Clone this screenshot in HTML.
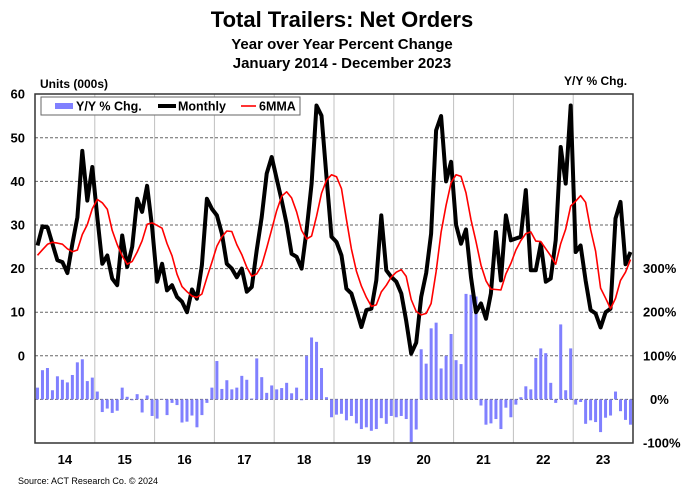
<!DOCTYPE html>
<html><head><meta charset="utf-8"><style>
html,body{margin:0;padding:0;background:#fff;}
svg{display:block;font-family:"Liberation Sans",Arial,sans-serif;font-weight:bold;}
</style></head><body>
<svg id="c" width="684" height="493" viewBox="0 0 684 493" xmlns="http://www.w3.org/2000/svg">
<text x="342" y="27" font-size="22" text-anchor="middle">Total Trailers: Net Orders</text>
<text x="342" y="49" font-size="15" text-anchor="middle">Year over Year Percent Change</text>
<text x="342" y="68" font-size="15" text-anchor="middle">January 2014 - December 2023</text>
<text x="40" y="88" font-size="12">Units (000s)</text>
<text x="564" y="85" font-size="12">Y/Y % Chg.</text>
<text x="18" y="484" font-size="9" font-weight="normal">Source: ACT Research Co. © 2024</text>
<g id="g"></g>
</svg>
<script>
var v=[25.3,29.7,29.5,25.7,21.9,21.5,19,25.7,31.8,47,35.6,43.3,
31.8,21.1,23,17.7,16.2,27.6,20.4,25,36,33,39,29.5,
17,21.1,15,16.2,13.5,12.4,10,15.2,13.1,20.8,36,33.7,
32.2,28,21.1,20,18,20,14.7,15.8,24.2,31.8,41.8,45.6,
40.6,35.6,30.3,23.4,22.7,20,28.8,39.5,57.4,55.1,41,27.3,
26.1,23,15.4,14.3,10.5,6.6,10.5,10.8,17.3,32.2,19.6,18.1,
17,14.3,8,0.5,3,13.5,19,28,51.7,55,40,44.5,
30,25.7,29,18,10,12,8.5,14.3,28.4,17.3,32.2,26.5,
26.9,27.3,38,19.6,19.6,25.7,17,17.7,26.5,47.9,39.5,57.4,
23.8,25.3,17.3,10.5,9.7,6.5,10,10.8,31.5,35.3,21,23.8];
var b=[27,67,72,21,53,45,39,56,85,92,42,50,
18,-29,-21,-31,-26,27,6,-2,12,-30,9,-38,
-44,1,-36,-8,-13,-53,-51,-37,-64,-36,-8,27,
88,24,44,23,27,54,45,2,94,51,15,32,
23,26,38,14,27,-2,100,142,132,72,5,-41,
-35,-33,-48,-38,-55,-68,-64,-72,-68,-43,-56,-38,
-41,-38,-45,-98,-69,115,82,163,176,71,100,150,
90,81,242,240,236,-14,-58,-55,-45,-68,-19,-41,
-12,5,30,23,95,117,106,38,-8,172,21,117,
-12,-6,-56,-48,-52,-75,-42,-37,18,-27,-47,-58];
var pre=[22,22,23,23,23];
function X(k){return 35+(k+0.5)*4.983;}
function YL(x){return 355.8-x*4.36;}
function YR(p){return 399.4-p*0.436;}
var s='';
for(var i=1;i<10;i++){var gx=35+i*59.8;s+='<line x1="'+gx+'" y1="94" x2="'+gx+'" y2="443" stroke="#c0c0c0" stroke-width="1"/>';}
[50,40,30,20,10,0,-10].forEach(function(t){var y=YL(t);s+='<line x1="35" y1="'+y+'" x2="633" y2="'+y+'" stroke="#666" stroke-width="1" stroke-dasharray="3,2"/>';});
for(var k=0;k<120;k++){var y0=YR(0),y1=YR(b[k]);s+='<rect x="'+(X(k)-1.5)+'" y="'+Math.min(y0,y1)+'" width="3" height="'+Math.abs(y1-y0)+'" fill="#8080ff"/>';}
var p='';for(k=0;k<120;k++){p+=(k?'L':'M')+X(k).toFixed(1)+','+YL(v[k]).toFixed(1);}
s+='<path d="'+p+'" fill="none" stroke="#000" stroke-width="4" stroke-linejoin="round"/>';
var all=pre.concat(v);p='';
for(k=0;k<120;k++){var sum=0;for(var j=0;j<6;j++)sum+=all[k+5-j];p+=(k?'L':'M')+X(k).toFixed(1)+','+YL(sum/6).toFixed(1);}
s+='<path d="'+p+'" fill="none" stroke="#f00" stroke-width="1.6" stroke-linejoin="round"/>';
s+='<rect x="35" y="94" width="598" height="349" fill="none" stroke="#333" stroke-width="1.5"/>';
[60,50,40,30,20,10,0].forEach(function(t){s+='<text x="25" y="'+(YL(t)+4.5)+'" font-size="13" text-anchor="end">'+t+'</text>';});
[[300,643],[200,643],[100,643],[0,650],[-100,643]].forEach(function(a){s+='<text x="'+a[1]+'" y="'+(YR(a[0])+4.5)+'" font-size="13">'+a[0]+'%</text>';});
for(i=0;i<10;i++){s+='<text x="'+(35+(i+0.5)*59.8)+'" y="464" font-size="13" text-anchor="middle">'+(14+i)+'</text>';}
s+='<rect x="41" y="97" width="259" height="18" fill="#fff" stroke="#666" stroke-width="1"/>';
s+='<rect x="55" y="103" width="18" height="6" fill="#8080ff"/><text x="76" y="110.5" font-size="12.5">Y/Y % Chg.</text>';
s+='<line x1="158" y1="106" x2="176" y2="106" stroke="#000" stroke-width="4"/><text x="178" y="110.5" font-size="12.5">Monthly</text>';
s+='<line x1="241" y1="106" x2="256" y2="106" stroke="#f00" stroke-width="1.6"/><text x="259" y="110.5" font-size="12.5">6MMA</text>';
document.getElementById('g').innerHTML=s;
</script>
</body></html>
